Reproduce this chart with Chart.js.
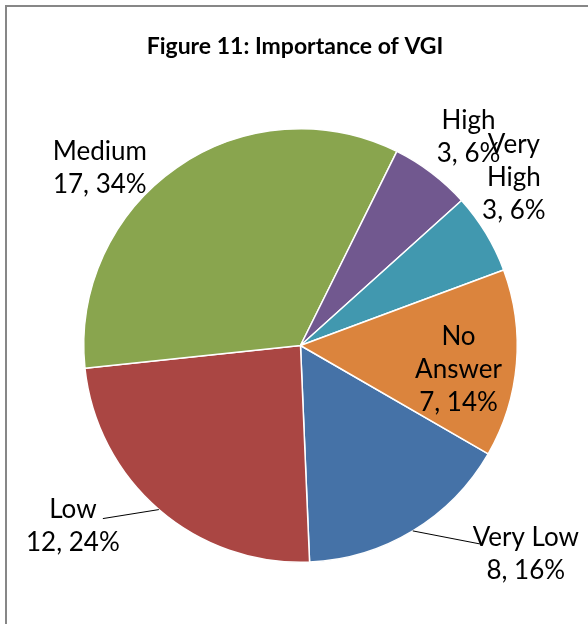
<!DOCTYPE html>
<html>
<head>
<meta charset="utf-8">
<script src="https://cdn.jsdelivr.net/npm/chart.js@4/dist/chart.umd.min.js"></script>
<style>
  html, body { margin: 0; padding: 0; background: #fff; }
  #wrap { position: relative; width: 588px; height: 624px; overflow: hidden; }
  #frame { position: absolute; left: 5px; top: 5px; width: 600px; height: 640px;
           border-left: 2px solid #878787; border-top: 2px solid #878787; }
  canvas { position: absolute; left: 0; top: 0; }
</style>
</head>
<body>
<div id="wrap">
  <div id="frame"></div>
  <canvas id="pie" width="588" height="624"></canvas>
</div>
<script>
// --- Données ---
const categories = ['Very Low', 'Low', 'Medium', 'High', 'Very High', 'No Answer'];
const counts = [8, 12, 17, 3, 3, 7];
const percents = [16, 24, 34, 6, 6, 14];
const sliceColors = ['#4572A7', '#AA4643', '#89A54E', '#71588F', '#4198AF', '#DB843D'];

const labelFont = '26px Lato';
const lineHeight = 33;

// Position des étiquettes : décalage depuis le bord de la part (au milieu de l'arc)
// split: où couper le nom sur plusieurs lignes, leader: trait de rappel
const labelStyle = [
    { dx: 113, dy: 23, split: false, leader: { dx: 67, dy: 13 } },
    { dx: -86, dy: 17, split: false, leader: { dx: -56, dy: 9 } },
    { dx: -77, dy: 1, split: false },
    { dx: 37, dy: -36, split: false },
    { dx: 28, dy: -56, split: true },
    { dx: -58, dy: 6, split: true }
];

function labelLines(i) {
    const name = labelStyle[i].split ? categories[i].split(' ') : [categories[i]];
    return name.concat([counts[i] + ', ' + percents[i] + '%']);
}

// Titre et étiquettes dessinés par un petit plugin
const labelsPlugin = {
    id: 'pieLabels',
    afterDraw(chart) {
        const ctx = chart.ctx;
        ctx.save();
        ctx.fillStyle = '#000';
        ctx.textBaseline = 'middle';
        ctx.textAlign = 'center';
        ctx.font = 'bold 23px Lato';
        ctx.fillText('Figure 11: Importance of VGI', 295, 47);

        const arcs = chart.getDatasetMeta(0).data;
        arcs.forEach((arc, i) => {
            const mid = (arc.startAngle + arc.endAngle) / 2;
            const ex = arc.x + Math.cos(mid) * arc.outerRadius;
            const ey = arc.y + Math.sin(mid) * arc.outerRadius;
            const st = labelStyle[i];
            if (st.leader) {
                ctx.strokeStyle = '#000';
                ctx.lineWidth = 1;
                ctx.beginPath();
                ctx.moveTo(ex, ey);
                ctx.lineTo(ex + st.leader.dx, ey + st.leader.dy);
                ctx.stroke();
            }
            ctx.font = labelFont;
            ctx.textAlign = 'center';
            const lines = labelLines(i);
            const n = lines.length;
            lines.forEach((t, k) => {
                const y = ey + st.dy + (k - (n - 1) / 2) * lineHeight;
                ctx.fillText(t, ex + st.dx, y);
            });
        });
        ctx.restore();
    }
};

new Chart(document.getElementById('pie'), {
    type: 'pie',
    data: {
        labels: categories,
        datasets: [{
            data: counts,
            backgroundColor: sliceColors,
            borderColor: '#ffffff',
            borderWidth: 1.5
        }]
    },
    options: {
        responsive: false,
        animation: false,
        rotation: 120,
        layout: { padding: { left: 83, top: 128, right: 70, bottom: 61 } },
        plugins: { legend: { display: false }, tooltip: { enabled: false }, title: { display: false } }
    },
    plugins: [labelsPlugin]
});
</script>
</body>
</html>
